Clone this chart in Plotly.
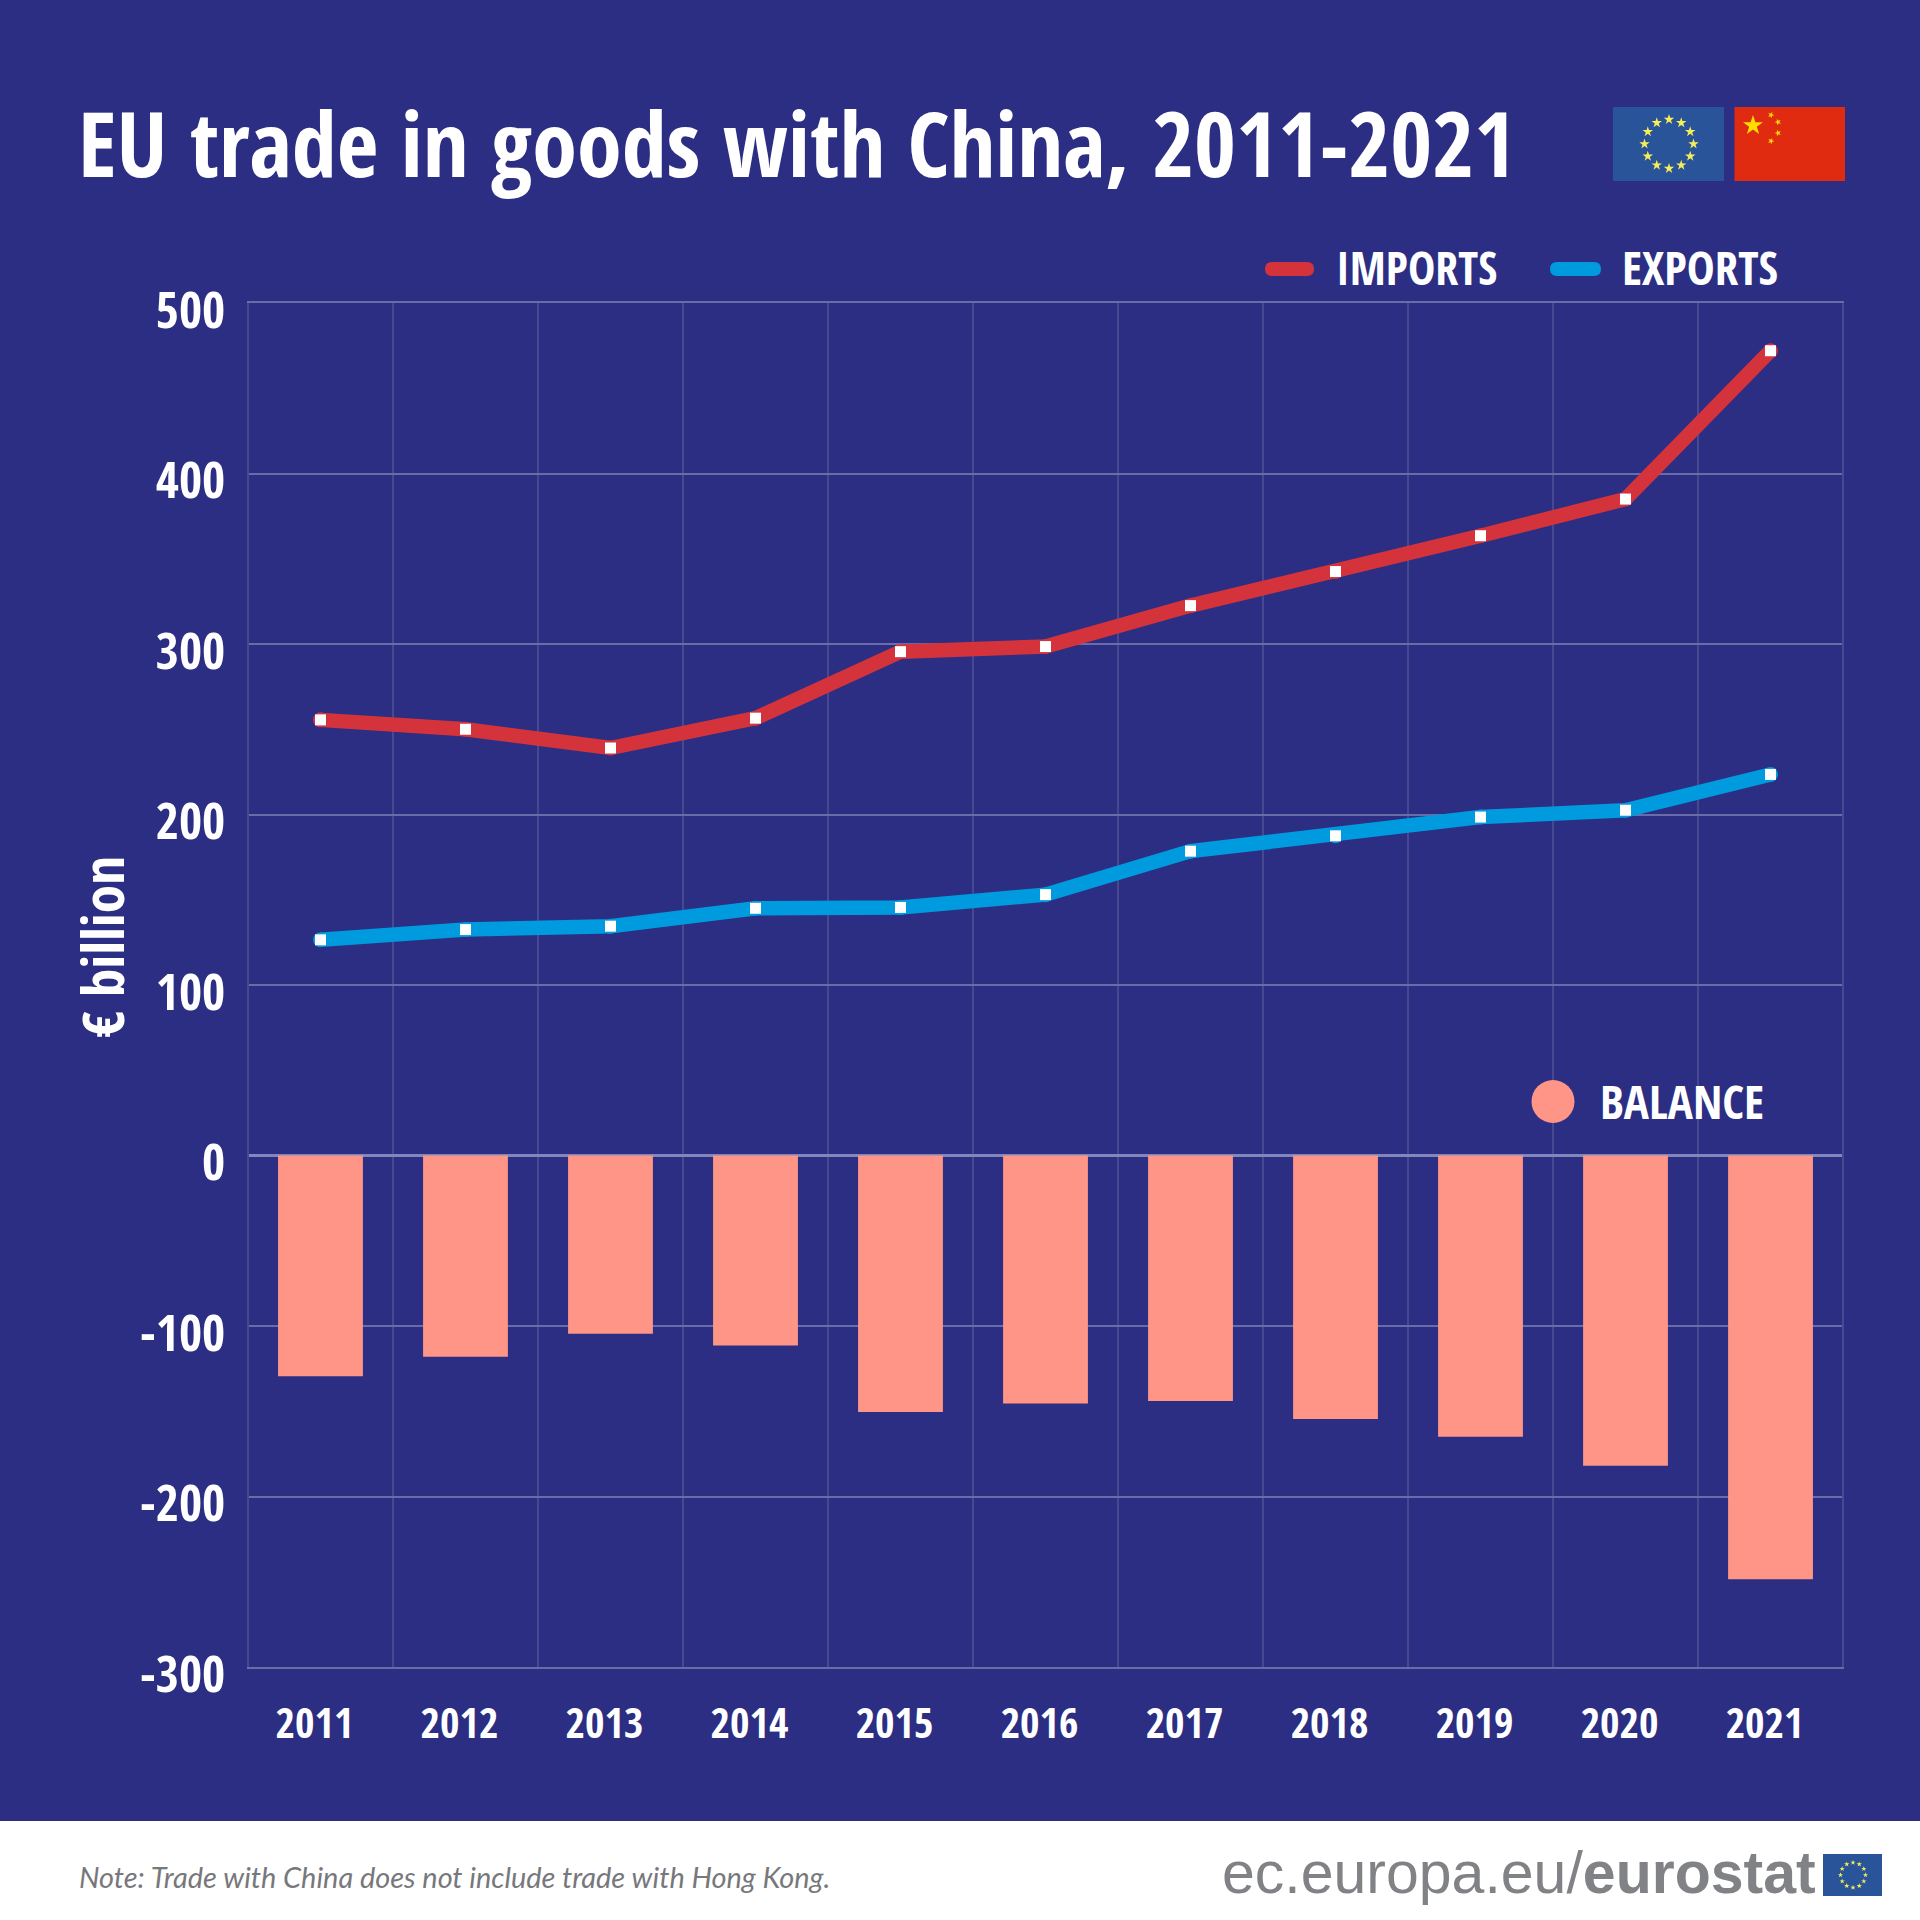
import math
import plotly.graph_objects as go

years = [2011, 2012, 2013, 2014, 2015, 2016, 2017, 2018, 2019, 2020, 2021]
imports = [255.5, 250, 239, 256.5, 295.5, 298.5, 322.5, 342.5, 363.5, 385, 472]
exports = [126.5, 132.5, 134.5, 145, 145.5, 153, 178.5, 187.5, 198.5, 202.5, 223.5]
balance = [-129.5, -118, -104.5, -111.5, -150.5, -145.5, -144, -154.5, -165, -182, -248.5]
y_ticks = [500, 400, 300, 200, 100, 0, -100, -200, -300]
y_labels = ["500", "400", "300", "200", "100", "0", "-100", "-200", "-300"]

NAVY = "#2b2e82"
RED = "#d5333c"
BLUE = "#009ade"
SALMON = "#ff9587"
GREY = "#77787b"
LOGO = "#808285"
NARROW = "Open Sans Condensed, Roboto Condensed, sans-serif"
SANS = "Liberation Sans, Arial, sans-serif"
S = 1920


def px(x):
    return x / S


def py(y):
    return 1 - y / S


def rect(x0, y0, x1, y1, color):
    return dict(type="rect", xref="paper", yref="paper", x0=px(x0), x1=px(x1),
                y0=py(y0), y1=py(y1), fillcolor=color, line_width=0, layer="below")


def star(cx, cy, r, color, rot=0.0):
    pts = []
    for i in range(10):
        rad = r if i % 2 == 0 else r * 0.382
        a = -math.pi / 2 + rot + i * math.pi / 5
        pts.append((px(cx + rad * math.cos(a)), py(cy + rad * math.sin(a))))
    d = "M" + " L".join(f"{a:.5f},{b:.5f}" for a, b in pts) + " Z"
    return dict(type="path", xref="paper", yref="paper", path=d, fillcolor=color,
                line_width=0, layer="above")


def pill(x0, x1, yc, h, color):
    r = h / 2
    d = (f"M{px(x0 + r):.5f},{py(yc - r):.5f} L{px(x1 - r):.5f},{py(yc - r):.5f} "
         f"Q{px(x1):.5f},{py(yc - r):.5f} {px(x1):.5f},{py(yc):.5f} "
         f"Q{px(x1):.5f},{py(yc + r):.5f} {px(x1 - r):.5f},{py(yc + r):.5f} "
         f"L{px(x0 + r):.5f},{py(yc + r):.5f} "
         f"Q{px(x0):.5f},{py(yc + r):.5f} {px(x0):.5f},{py(yc):.5f} "
         f"Q{px(x0):.5f},{py(yc - r):.5f} {px(x0 + r):.5f},{py(yc - r):.5f} Z")
    return dict(type="path", xref="paper", yref="paper", path=d, fillcolor=color,
                line_width=0, layer="above")


def note(x, y, text, size, color="white", family=NARROW, anchor="left", angle=0):
    return dict(xref="paper", yref="paper", x=px(x), y=py(y), text=text, showarrow=False,
                xanchor=anchor, yanchor="middle", textangle=angle,
                font=dict(family=family, size=size, color=color))


shapes = [
    rect(0, 0, S, 1821, NAVY),
    rect(1613, 107, 1724, 181, "#2a5499"),
    rect(1734.5, 107, 1845, 181, "#e02b10"),
    rect(1823, 1854, 1882, 1896, "#2a5499"),
    pill(1265, 1314, 269, 14, RED),
    pill(1550, 1601, 269, 14, BLUE),
    dict(type="circle", xref="paper", yref="paper", x0=px(1531.5), x1=px(1574.5),
         y0=py(1080), y1=py(1123), fillcolor=SALMON, line_width=0, layer="above"),
]
for i in range(12):
    a = i * math.pi / 6
    shapes.append(star(1669 + 24.5 * math.sin(a), 144 - 24.5 * math.cos(a), 5.5, "#f5ee5a"))
    shapes.append(star(1853 + 12.5 * math.sin(a), 1875 - 12.5 * math.cos(a), 2.8, "#f5ee5a"))
shapes.append(star(1753, 125.5, 10.5, "#ffde00"))
for cx, cy, rot in [(1771, 115, 0.4), (1778, 122, 0.9), (1778, 133, -0.3), (1771, 141, 0.4)]:
    shapes.append(star(cx, cy, 3.4, "#ffde00", rot))

annotations = [
    note(76, 142, "<b>EU trade in goods with China, 2011-2021</b>", 90.5),
    note(1334, 267, "<b>IMPORTS</b>", 46),
    note(1620, 267, "<b>EXPORTS</b>", 47),
    note(1598, 1101, "<b>BALANCE</b>", 47),
    note(102, 947, "<b>€ billion</b>", 57.5, anchor="center", angle=-90),
    note(77, 1876, "<i>Note: Trade with China does not include trade with Hong Kong.</i>",
         28.9, color=GREY, family="Lato, Liberation Sans, sans-serif"),
    note(1220, 1873, 'ec.europa.eu/<b>eurostat</b>', 59, color=LOGO, family=SANS),
]

fig = go.Figure()
fig.add_trace(go.Bar(x=years, y=balance, width=0.585, marker=dict(color=SALMON, line_width=0),
                     name="BALANCE", showlegend=False))
for vals, col, name in [(imports, RED, "IMPORTS"), (exports, BLUE, "EXPORTS")]:
    fig.add_trace(go.Scatter(x=years, y=vals, mode="markers", name=name + " caps", showlegend=False,
                             marker=dict(symbol="circle", size=15, color=col, line_width=0)))
    fig.add_trace(go.Scatter(x=years, y=vals, mode="lines+markers", name=name, showlegend=False,
                             line=dict(color=col, width=14.5),
                             marker=dict(symbol="square", size=11, color="white", line_width=0)))

fig.update_layout(
    width=S, height=S, margin=dict(l=0, r=0, t=0, b=0, autoexpand=False),
    paper_bgcolor="white", plot_bgcolor="rgba(0,0,0,0)", showlegend=False,
    shapes=shapes, annotations=annotations,
    xaxis=dict(domain=[px(249), px(1842)], range=[2010.507, 2021.493], tickmode="array",
               tickvals=years, ticktext=[str(y) for y in years], showgrid=False, zeroline=False,
               showline=True, mirror=True, linecolor="#6a6ca8", linewidth=1.5,
               ticks="", ticklabelshift=-6, ticklabelstandoff=19,
               tickfont=dict(family=NARROW, size=42, color="white", weight="bold"),
               minor=dict(tick0=2010.5, dtick=1, showgrid=True, gridcolor="#46498f", gridwidth=1.5)),
    yaxis=dict(domain=[py(1667), py(303)], range=[-300, 500], tickmode="array", tickvals=y_ticks,
               ticktext=y_labels, showgrid=True, gridcolor="#6a6ca8", gridwidth=1.5,
               zeroline=True, zerolinecolor="#8286bb", zerolinewidth=3,
               showline=True, mirror=True, linecolor="#46498f", linewidth=1.5, ticks="",
               ticklabelshift=7, ticklabelstandoff=12,
               tickfont=dict(family=NARROW, size=50, color="white", weight="bold")),
)
fig.write_html("out.html", config=dict(displayModeBar=False),
               post_script="document.body.style.margin='0';")
